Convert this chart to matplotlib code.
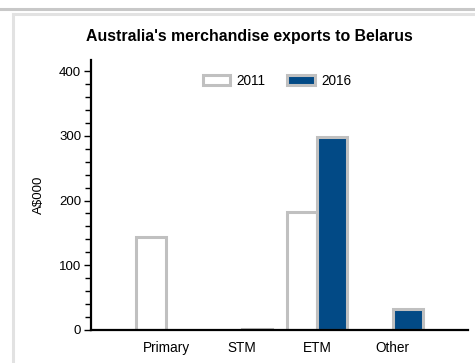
import matplotlib

matplotlib.use("Agg")
import matplotlib.pyplot as plt
import numpy as np
from matplotlib.lines import Line2D
from matplotlib.patches import Patch
from matplotlib.ticker import MultipleLocator

categories = ["Primary", "STM", "ETM", "Other"]
exports_2011 = [143, 0, 182, 0]
exports_2016 = [0, 1, 298, 32]
series_labels = ["2011", "2016"]

FILL_2016 = "#024a86"
EDGE = "#c0c0c0"

plt.rcParams["font.family"] = ["Liberation Sans", "DejaVu Sans"]

W, H = 475, 363
fig = plt.figure(figsize=(W / 100, H / 100), dpi=100)
fig.patch.set_facecolor("white")

# card border lines around the chart
fig.add_artist(Line2D([0, 1], [1 - 9 / H, 1 - 9 / H], color="#c8c8c8", lw=2.2))
fig.add_artist(Line2D([12.5 / W, 1], [1 - 14 / H, 1 - 14 / H], color="#e2e2e2", lw=2.2))
fig.add_artist(Line2D([12.5 / W, 12.5 / W], [0, 1 - 14 / H], color="#e2e2e2", lw=2.2))

ax = fig.add_axes([91 / W, 1 - 330 / H, (468 - 91) / W, (330 - 60) / H])

x = np.arange(len(categories))
width = 0.4
bars_2011 = ax.bar(x - width / 2, exports_2011, width, facecolor="white",
                   edgecolor=EDGE, linewidth=2.2, label=series_labels[0])
bars_2016 = ax.bar(x + width / 2, exports_2016, width, facecolor=FILL_2016,
                   edgecolor=EDGE, linewidth=2.2, label=series_labels[1])
for rect, val in zip(list(bars_2011) + list(bars_2016), exports_2011 + exports_2016):
    if val == 0:
        rect.set_visible(False)

ax.set_xlim(-1, 4)
ax.set_ylim(0, 417)
ax.set_xticks(x)
ax.set_xticklabels(categories, fontsize=9.8)
ax.tick_params(axis="x", length=0, pad=8)
ax.yaxis.set_major_locator(MultipleLocator(100))
ax.yaxis.set_minor_locator(MultipleLocator(20))
ax.tick_params(axis="y", which="major", length=5, width=1, labelsize=9.5, pad=2)
ax.tick_params(axis="y", which="minor", length=4, width=1)
for side in ("top", "right"):
    ax.spines[side].set_visible(False)
for side in ("left", "bottom"):
    ax.spines[side].set_linewidth(1.6)
ax.set_ylabel("A$000", fontsize=9.5, labelpad=10)

fig.text(249 / W, 1 - 37 / H, "Australia's merchandise exports to Belarus",
         ha="center", va="center", fontsize=11.4, fontweight="bold")

handles = [Patch(facecolor="white", edgecolor=EDGE, linewidth=2.2),
           Patch(facecolor=FILL_2016, edgecolor=EDGE, linewidth=2.2)]
fig.legend(handles, series_labels, loc="center", bbox_to_anchor=(277 / W, 1 - 81 / H),
           ncol=2, frameon=False, fontsize=9.8, handlelength=2.0, handleheight=0.75,
           handletextpad=0.5, columnspacing=1.6)

fig.savefig("out.png", dpi=100)
